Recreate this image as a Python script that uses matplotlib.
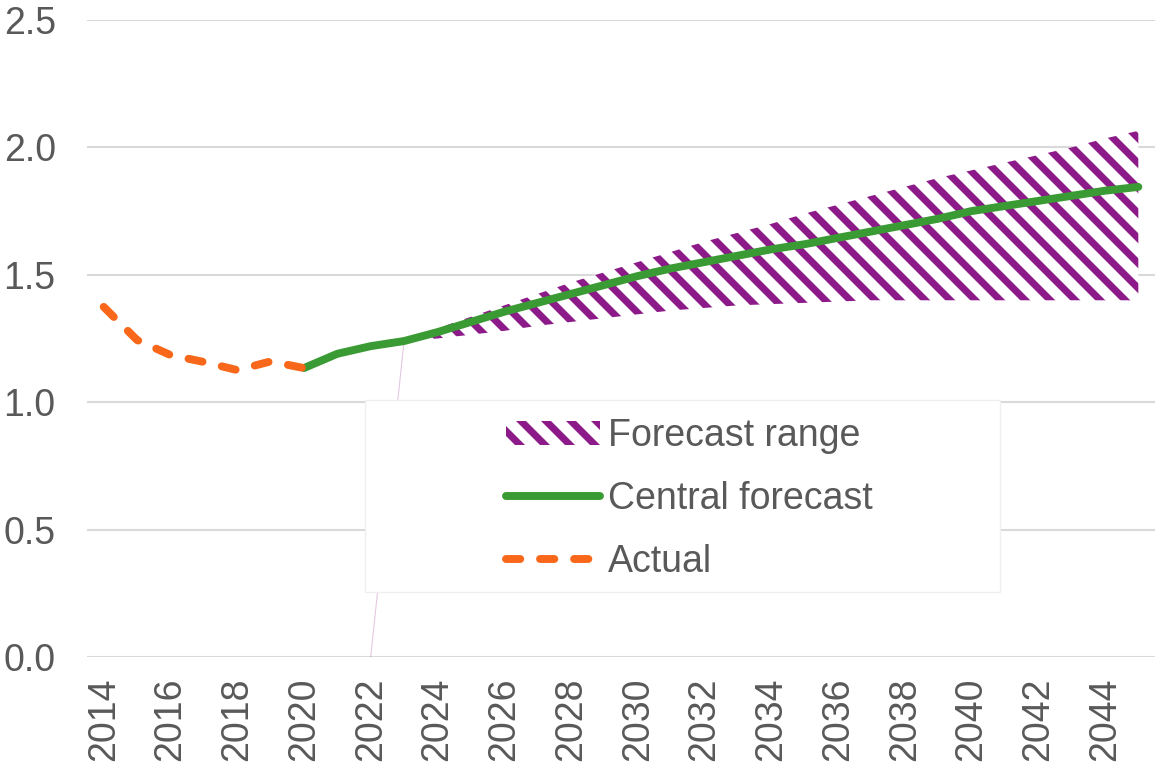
import matplotlib
matplotlib.use("Agg")
import matplotlib.pyplot as plt
from matplotlib.patches import Rectangle, Patch
from matplotlib.lines import Line2D

DPI = 150

plt.rcParams["font.family"] = ["Liberation Sans", "DejaVu Sans"]
plt.rcParams["hatch.linewidth"] = 3.4

ORANGE = "#F9681A"
GREEN = "#3A9A33"
PURPLE = "#8C1A88"
TEXT = "#595959"
GRID = "#D9D9D9"

# actual index values
actual_years = [2014, 2015, 2016, 2017, 2018, 2019, 2020]
actual = [1.374, 1.244, 1.185, 1.158, 1.126, 1.160, 1.134]

# central forecast
central_years = list(range(2020, 2046))
central = [1.134, 1.19, 1.22, 1.24, 1.275, 1.315, 1.355, 1.39, 1.425, 1.46,
           1.495, 1.525, 1.55, 1.575, 1.60, 1.62, 1.645, 1.67, 1.695, 1.72,
           1.75, 1.77, 1.79, 1.81, 1.83, 1.845]

# forecast range (low / high)
range_years = list(range(2023, 2046))
range_low = [1.24, 1.25, 1.265, 1.28, 1.30, 1.315, 1.33, 1.345, 1.36, 1.37,
             1.38, 1.385, 1.39, 1.395, 1.40, 1.40, 1.40, 1.40, 1.40, 1.40,
             1.40, 1.40, 1.40]
range_high = [1.24, 1.29, 1.335, 1.38, 1.425, 1.47, 1.51, 1.55, 1.59, 1.63,
              1.665, 1.70, 1.74, 1.775, 1.81, 1.845, 1.88, 1.91, 1.94, 1.97,
              2.00, 2.035, 2.065]

year_ticks = list(range(2014, 2046, 2))
y_ticks = [0.0, 0.5, 1.0, 1.5, 2.0, 2.5]

FS = 18


def main():
    fig = plt.figure(figsize=(1156 / DPI, 765 / DPI), dpi=DPI)
    ax = fig.add_axes([87 / 1156, 1 - 657 / 765, 1068 / 1156, 637 / 765])

    ax.fill_between(range_years, range_low, range_high, facecolor="white",
                    edgecolor=PURPLE, hatch="\\\\", linewidth=0, zorder=2)
    # leftover edge of the stacked range area
    ax.plot([range_years[0] - 1, range_years[0]], [0, range_low[0]],
            color=PURPLE, lw=0.5, alpha=0.25, zorder=2)
    ax.plot(central_years, central, color=GREEN, lw=3.8,
            solid_capstyle="round", zorder=3)
    ax.plot(actual_years, actual, color=ORANGE, lw=3.8,
            dashes=(1.8, 2.5), dash_capstyle="round", zorder=3)

    ax.set_xlim(2013.5, 2045.5)
    ax.set_ylim(0, 2.5)
    ax.set_xticks(year_ticks)
    ax.set_xticklabels([str(y) for y in year_ticks], rotation=90)
    ax.set_yticks(y_ticks)
    ax.set_yticklabels([f"{v:.1f}" for v in y_ticks])
    ax.tick_params(axis="both", length=0, labelsize=FS, colors=TEXT)
    ax.tick_params(axis="x", pad=10)
    ax.tick_params(axis="y", pad=15)
    ax.grid(axis="y", color=GRID, lw=1.0)
    ax.set_axisbelow(True)
    for s in ax.spines.values():
        s.set_visible(False)

    # legend box
    box = Rectangle((0.260, 0.102), 0.595, 0.302, transform=ax.transAxes,
                    facecolor="white", edgecolor="#EFEFEF", lw=0.6,
                    zorder=5, clip_on=False)
    ax.add_patch(box)
    handles = [
        Patch(facecolor="white", edgecolor=PURPLE, hatch="\\\\", linewidth=0),
        Line2D([], [], color=GREEN, lw=3.8, solid_capstyle="round"),
        Line2D([], [], color=ORANGE, lw=3.8, dashes=(1.8, 2.5),
               dash_capstyle="round"),
    ]
    labels = ["Forecast range", "Central forecast", "Actual"]
    leg = ax.legend(handles, labels, loc="center",
                    bbox_to_anchor=(0.564, 0.248), frameon=False,
                    fontsize=FS, handlelength=2.5, handleheight=0.6,
                    handletextpad=0.2, labelspacing=0.72)
    leg.set_zorder(6)
    for t in leg.get_texts():
        t.set_color(TEXT)

    fig.savefig("out.png", dpi=DPI, facecolor="white")


if __name__ == "__main__":
    main()
